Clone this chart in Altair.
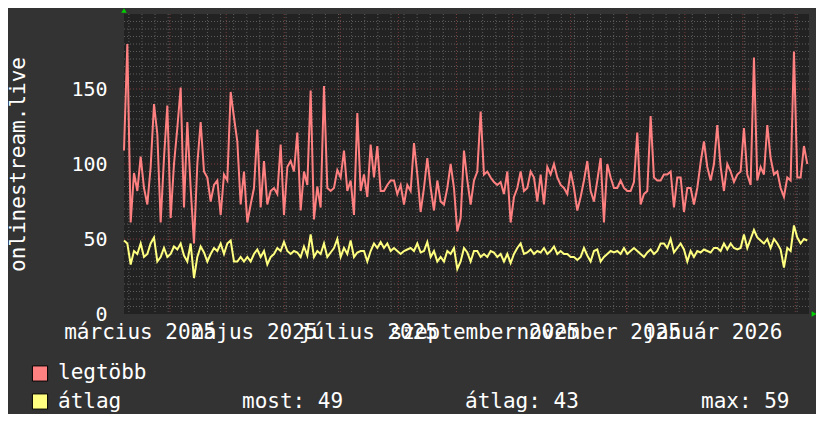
import altair as alt
import pandas as pd

# ---------------- data ----------------
legtobb = [
    109, 180, 61, 94, 82, 105, 84, 73, 98, 140, 120, 61, 104, 139, 64, 100, 124, 151, 71, 128,
    84, 47, 100, 128, 95, 91, 75, 86, 89, 66, 93, 89, 148, 131, 115, 73, 95, 61, 73, 84,
    123, 71, 102, 73, 82, 84, 80, 113, 66, 98, 102, 95,
    121, 69, 95, 86, 149, 63, 85, 71, 152, 84, 82, 84, 96, 91, 109, 82, 89, 66, 134, 82,
    93, 78, 113, 91, 112, 82, 82, 86, 89, 89, 80, 86, 73, 86, 82, 114, 93, 68, 84, 104,
    84, 69, 89, 75, 73, 84, 100, 84, 55, 64, 109,
    89, 73, 89, 95, 135, 93, 95, 91, 88, 86, 88, 80, 95, 61, 78, 84, 95, 82, 84, 95,
    91, 75, 93, 73, 98, 93, 100, 91, 86, 84, 80, 95, 84, 69, 78, 89, 102, 82, 75, 89,
    104, 61, 100, 91, 84, 84, 89, 84, 82, 82, 88,
    121, 73, 80, 82, 132, 91, 89, 89, 93, 93, 95, 71, 91, 91, 68, 84, 84, 73, 84, 101,
    115, 98, 89, 100, 126, 98, 82, 100, 95, 88, 93, 95, 124, 93, 86, 171, 89, 98, 93, 126,
    104, 93, 95, 84, 78, 91, 89, 175, 91, 91, 112, 100,
]
atlag = [
    49, 47, 33, 42, 40, 47, 38, 40, 47, 51, 35, 38, 44, 38, 40, 45, 43, 47, 39, 35,
    47, 24, 38, 45, 41, 35, 40, 44, 42, 47, 40, 47, 49, 35, 35, 38, 35, 38, 35, 40,
    43, 38, 42, 33, 38, 40, 44, 42, 48, 42, 40, 42,
    41, 38, 45, 39, 53, 38, 42, 40, 47, 38, 41, 44, 50, 38, 44, 40, 49, 38, 41, 42,
    42, 35, 42, 47, 44, 48, 44, 47, 42, 44, 42, 40, 42, 43, 44, 42, 47, 41, 42, 48,
    38, 42, 35, 38, 35, 42, 40, 44, 30, 35, 44,
    41, 35, 42, 42, 38, 40, 38, 42, 41, 38, 40, 35, 40, 34, 40, 44, 47, 40, 41, 43,
    40, 42, 41, 44, 40, 42, 45, 40, 42, 40, 40, 38, 38, 36, 38, 44, 39, 35, 42, 43,
    35, 38, 40, 42, 41, 42, 40, 44, 40, 42, 44,
    42, 40, 38, 41, 43, 40, 42, 47, 47, 44, 50, 41, 44, 47, 43, 35, 42, 38, 42, 41,
    43, 42, 41, 44, 44, 42, 47, 43, 47, 44, 43, 44, 53, 44, 50, 56, 51, 49, 47, 50,
    44, 50, 47, 43, 31, 44, 42, 59, 51, 47, 50, 49,
]
series_names = ["legtöbb", "átlag"]
series_colors = ["#ff8080", "#ffff80"]
stat_labels = ["most: 49", "átlag: 43", "max: 59"]
y_title = "onlinestream.live"
y_ticks = [0, 50, 100, 150]
x_label_dates = ["2025-03-16", "2025-05-16", "2025-07-16", "2025-09-16", "2025-11-16", "2026-01-16"]
x_label_texts = ["március 2025", "május 2025", "július 2025", "szeptember 2025", "november 2025", "január 2026"]

# time axis: samples spread evenly over one year starting 2025-03-07
start = pd.Timestamp("2025-03-07 10:00")
n = len(legtobb)
times = [start + pd.Timedelta(days=365.0 * i / (n - 1)) for i in range(n)]

df_red = pd.DataFrame({"t": times, "v": legtobb, "s": series_names[0]})
df_yel = pd.DataFrame({"t": times, "v": atlag, "s": series_names[1]})
df_weeks = pd.DataFrame({"t": pd.date_range("2025-03-10", "2026-03-02", freq="7D")})
df_months = pd.DataFrame({"t": pd.date_range("2025-04-01", "2026-03-01", freq="MS")})
df_hmin = pd.DataFrame({"v": [v for v in range(5, 200, 5) if v % 50 != 0]})
df_hmaj = pd.DataFrame({"v": [50, 100, 150]})
df_lab = pd.DataFrame({"t": pd.to_datetime(x_label_dates), "label": x_label_texts})
one = pd.DataFrame({"_": [0]})

FONT = "DejaVu Sans Mono"
WHITE = "#ffffff"
MINOR = "#5c5c5c"
MAJOR = "#7a3a3a"

xscale = alt.Scale(domain=[alt.DateTime(year=2025, month=3, date=7, hours=10),
                           alt.DateTime(year=2026, month=3, date=8, hours=8)])
yscale = alt.Scale(domain=[0, 200], nice=False, zero=True)
X = alt.X("t:T", scale=xscale, axis=None)

yaxis = alt.Axis(values=y_ticks, labelFont=FONT, labelFontSize=20, labelColor=WHITE,
                 labelPadding=17, labelFlush=False, labelBaseline="middle",
                 domain=False, ticks=False, grid=False,
                 title=y_title, titleFont=FONT, titleFontSize=21, titleFontWeight="normal",
                 titleColor=WHITE, titleAngle=270, titleX=-100, titleY=150,
                 titleAlign="center", titleBaseline="alphabetic")
Y = alt.Y("v:Q", scale=yscale, axis=yaxis)

grid_vmin = alt.Chart(df_weeks).mark_rule(color=MINOR, strokeDash=[1, 2], strokeWidth=1).encode(x=X)
grid_vmaj = alt.Chart(df_months).mark_rule(color=MAJOR, strokeDash=[1, 2], strokeWidth=1).encode(x=X)
grid_hmin = alt.Chart(df_hmin).mark_rule(color=MINOR, strokeDash=[1, 2], strokeWidth=1).encode(y=Y)
grid_hmaj = alt.Chart(df_hmaj).mark_rule(color=MAJOR, strokeDash=[1, 2], strokeWidth=1).encode(y=Y)

line_red = alt.Chart(df_red).mark_line(color=series_colors[0], strokeWidth=2).encode(x=X, y=Y)
line_yel = alt.Chart(df_yel).mark_line(color=series_colors[1], strokeWidth=2).encode(x=X, y=Y)

xlabels = alt.Chart(df_lab).mark_text(font=FONT, fontSize=21, color=WHITE, align="center",
                                      baseline="alphabetic").encode(
    x=X, y=alt.value(325), text="label:N")

arrow_up = alt.Chart(one).mark_point(shape="triangle-up", filled=True, color="#00d000",
                                     size=30, opacity=1).encode(x=alt.value(0), y=alt.value(-3.5))
arrow_right = alt.Chart(one).mark_point(shape="triangle-right", filled=True, color="#00d000",
                                        size=30, opacity=1).encode(x=alt.value(690), y=alt.value(300))

def square(color, y):
    return alt.Chart(one).mark_square(size=230, color=color, stroke="#000000", strokeWidth=1,
                                      opacity=1).encode(x=alt.value(-84), y=alt.value(y))

def label(text, x, y):
    return alt.Chart(one).mark_text(text=text, font=FONT, fontSize=21, color=WHITE,
                                    align="left", baseline="alphabetic").encode(
        x=alt.value(x), y=alt.value(y))

legend = [
    square(series_colors[0], 359.5), square(series_colors[1], 387.5),
    label(series_names[0], -66, 365), label(series_names[1], -66, 394),
    label(stat_labels[0], 118, 394), label(stat_labels[1], 341, 394), label(stat_labels[2], 577, 394),
]

chart = alt.layer(
    grid_hmin, grid_vmin, grid_hmaj, grid_vmaj, line_red, line_yel, xlabels,
    arrow_up, arrow_right, *legend
).properties(
    width=685, height=300,
    autosize=alt.AutoSizeParams(type="none"),
    padding={"left": 116, "top": 6, "right": 7, "bottom": 100},
    background="#333333",
).configure_view(fill="#222222", stroke=None)

chart.save("out.html", embed_options={"renderer": "svg", "actions": False})
